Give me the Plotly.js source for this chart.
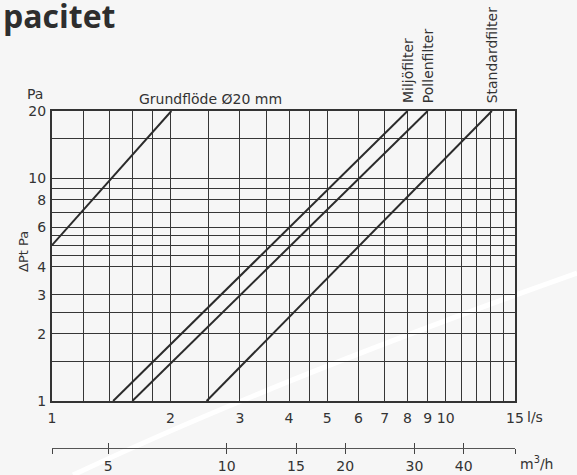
<!DOCTYPE html>
<html>
<head>
<meta charset="utf-8">
<script src="https://cdn.plot.ly/plotly-3.0.1.min.js"></script>
<style>
  html, body { margin: 0; padding: 0; background: #f6f6f6; }
  #chart { width: 577px; height: 475px; }
</style>
</head>
<body>
<div id="chart"></div>
<script>
// ---- data (flow in l/s, pressure drop in Pa) ----
const grundQ = [1, 2.01];
const grundDp = [5, 20];
const miljoQ = [1.43, 8.0];
const miljoDp = [1, 20];
const pollenQ = [1.6, 9.0];
const pollenDp = [1, 20];
const standardQ = [2.47, 13.1];
const standardDp = [1, 20];

// x grid / tick labels (l/s)
const xGrid = [1, 1.2, 1.4, 1.6, 1.8, 2, 2.5, 3, 3.5, 4, 4.5, 5, 6, 7, 8, 9, 10, 11, 12, 13, 14, 15];
const xLabels = ['1', '', '', '', '', '2', '', '3', '', '4', '', '5', '6', '7', '8', '9', '10', '', '', '', '', '15'];
// y grid / tick labels (Pa)
const yGrid = [1, 1.5, 2, 2.5, 3, 4, 4.5, 5, 5.5, 6, 7, 8, 9, 10, 15, 20];
const yLabels = ['1', '', '2', '', '3', '4', '', '', '', '6', '', '8', '', '10', '', '20'];
// secondary axis (m3/h)
const m3hRange = [3.6, 54];
const m3hTicks = [3.6, 5, 10, 15, 20, 30, 40, 54];
const m3hLabels = ['', '5', '10', '15', '20', '30', '40', ''];

const lineColor = '#2b2b2b';
const textColor = '#333333';
const font = 'DejaVu Sans, Liberation Sans, sans-serif';

function lineTrace(q, dp, name) {
  return { x: q, y: dp, name: name, type: 'scatter', mode: 'lines',
           line: { color: lineColor, width: 2 }, showlegend: false, hoverinfo: 'skip' };
}
// invisible carriers so the m3/h axes are laid out
function axisCarrier(axis) {
  return { x: m3hRange, y: [1, 1], xaxis: axis, type: 'scatter', mode: 'lines',
           line: { width: 0, color: 'rgba(0,0,0,0)' }, showlegend: false, hoverinfo: 'skip' };
}

const traces = [
  lineTrace(grundQ, grundDp, 'Grundflöde Ø20 mm'),
  lineTrace(miljoQ, miljoDp, 'Miljöfilter'),
  lineTrace(pollenQ, pollenDp, 'Pollenfilter'),
  lineTrace(standardQ, standardDp, 'Standardfilter'),
  axisCarrier('x2'),
  axisCarrier('x3')
];

const yDomainBottom = 47 / 337;

function filterLabel(text, q) {
  return { text: text, xref: 'x', yref: 'paper', x: Math.log10(q), y: 1,
           xanchor: 'center', yanchor: 'bottom', yshift: 6, textangle: -90,
           showarrow: false, font: { family: font, size: 14, color: textColor } };
}

const m3hAxisBase = {
  type: 'log', range: [Math.log10(m3hRange[0]), Math.log10(m3hRange[1])],
  overlaying: 'x', anchor: 'free', position: 0, side: 'bottom',
  tickmode: 'array', tickvals: m3hTicks,
  ticklen: 5, tickwidth: 1, tickcolor: '#444',
  showgrid: false, zeroline: false
};

const layout = {
  width: 577, height: 475,
  margin: { l: 52, r: 62, t: 111, b: 27 },
  paper_bgcolor: '#f6f6f6',
  plot_bgcolor: 'rgba(0,0,0,0)',
  font: { family: font, size: 14, color: textColor },
  showlegend: false,
  xaxis: {
    type: 'log', range: [0, Math.log10(15)],
    anchor: 'y',
    tickmode: 'array', tickvals: xGrid, ticktext: xLabels,
    ticks: '', ticklabelstandoff: 3,
    showgrid: true, gridcolor: '#363636', gridwidth: 1,
    showline: true, mirror: true, linecolor: '#333', linewidth: 2,
    zeroline: false, tickfont: { size: 14, color: textColor }
  },
  yaxis: {
    type: 'log', range: [0, Math.log10(20)],
    domain: [yDomainBottom, 1],
    tickmode: 'array', tickvals: yGrid, ticktext: yLabels,
    ticks: '', ticklabelstandoff: 1,
    showgrid: true, gridcolor: '#363636', gridwidth: 1,
    showline: true, mirror: true, linecolor: '#333', linewidth: 2,
    zeroline: false, tickfont: { size: 14, color: textColor }
  },
  xaxis2: Object.assign({}, m3hAxisBase, {
    ticktext: m3hLabels, ticks: 'outside', ticklabelstandoff: 0,
    showline: true, linecolor: '#555', linewidth: 1,
    tickfont: { size: 14, color: textColor }
  }),
  xaxis3: Object.assign({}, m3hAxisBase, {
    ticktext: m3hLabels, ticks: 'inside',
    showticklabels: false, showline: false
  }),
  shapes: [
    // faint decorative white swoosh in the background
    { type: 'path', xref: 'paper', yref: 'paper', layer: 'below',
      path: 'M 0.0454 -0.0801 Q 0.4816 0.2018 1.1339 0.5193',
      line: { color: '#ffffff', width: 5 } }
  ],
  annotations: [
    { text: '<b>pacitet</b>', xref: 'paper', yref: 'paper', x: -51 / 463, y: (448 - 16) / 337,
      xanchor: 'left', yanchor: 'middle', showarrow: false,
      font: { family: 'Open Sans, sans-serif', size: 32, color: '#2e2e2e' } },
    { text: 'Pa', xref: 'paper', yref: 'paper', x: (35 - 52) / 463, y: (448 - 94) / 337,
      xanchor: 'center', yanchor: 'middle', showarrow: false,
      font: { family: font, size: 14, color: textColor } },
    { text: 'ΔPt Pa', xref: 'paper', yref: 'paper', x: (23 - 52) / 463, y: (448 - 252) / 337,
      xanchor: 'center', yanchor: 'middle', textangle: -90, showarrow: false,
      font: { family: font, size: 13, color: textColor } },
    { text: 'Grundflöde Ø20 mm', xref: 'paper', yref: 'paper', x: (137 - 52) / 463, y: 1,
      xanchor: 'left', yanchor: 'bottom', yshift: 2, showarrow: false,
      font: { family: font, size: 14, color: textColor } },
    filterLabel('Miljöfilter', miljoQ[1]),
    filterLabel('Pollenfilter', pollenQ[1]),
    filterLabel('Standardfilter', standardQ[1]),
    { text: 'l/s', xref: 'paper', yref: 'paper', x: (525 - 52) / 463, y: (448 - 417) / 337,
      xanchor: 'left', yanchor: 'middle', showarrow: false,
      font: { family: font, size: 14, color: textColor } },
    { text: 'm<sup>3</sup>/h', xref: 'paper', yref: 'paper', x: (518 - 52) / 463, y: (448 - 463) / 337,
      xanchor: 'left', yanchor: 'middle', showarrow: false,
      font: { family: font, size: 14, color: textColor } }
  ]
};

Plotly.newPlot('chart', traces, layout, { staticPlot: true, displayModeBar: false });
</script>
</body>
</html>
